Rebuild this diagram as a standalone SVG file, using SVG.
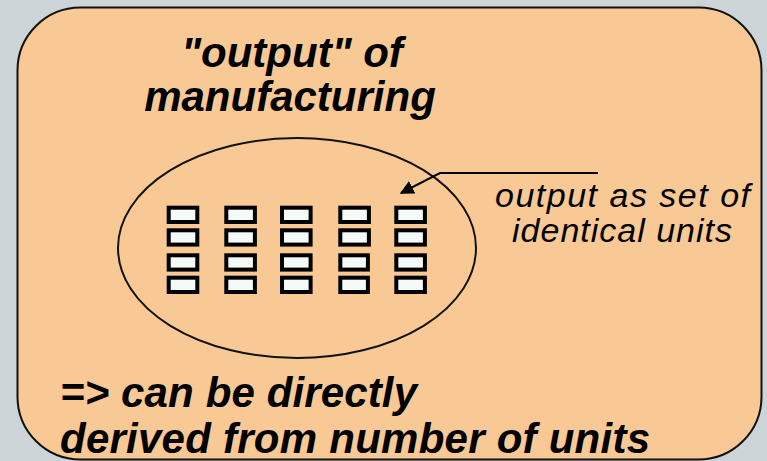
<svg xmlns="http://www.w3.org/2000/svg" width="767" height="461" viewBox="0 0 767 461">
<defs>
<style>
.t{font-family:"Liberation Sans",Arial,sans-serif;font-style:italic;fill:#000}
.b{font-weight:bold;font-size:42px}
.r{font-size:34px}
.u{fill:#F4FAF8;stroke:#000;stroke-width:4}
</style>
<marker id="ah" viewBox="0 0 10 10" refX="9" refY="5" markerWidth="14" markerHeight="14" markerUnits="userSpaceOnUse" orient="auto">
<path d="M0,0 L10,5 L0,10 z" fill="#000"/>
</marker>
</defs>
<rect width="767" height="461" fill="#CCD4D7"/>
<g id="frame">
<rect x="17.5" y="7.5" width="744" height="452" rx="63" ry="63" fill="#F8C995" stroke="#111" stroke-width="2"/>
</g>
<g id="title">
<text class="t b" x="292" y="67" text-anchor="middle">"output" of</text>
<text class="t b" x="290" y="111" text-anchor="middle">manufacturing</text>
</g>
<g id="set">
<ellipse cx="297" cy="248" rx="179" ry="110" fill="none" stroke="#111" stroke-width="2"/>
</g>
<g id="units">
<rect class="u" x="168.7" y="207.7" width="28.6" height="14.3"/>
<rect class="u" x="168.7" y="230.3" width="28.6" height="14.3"/>
<rect class="u" x="168.7" y="255.3" width="28.6" height="14.3"/>
<rect class="u" x="168.7" y="277.7" width="28.6" height="14.3"/>
<rect class="u" x="226.3" y="207.7" width="28.6" height="14.3"/>
<rect class="u" x="226.3" y="230.3" width="28.6" height="14.3"/>
<rect class="u" x="226.3" y="255.3" width="28.6" height="14.3"/>
<rect class="u" x="226.3" y="277.7" width="28.6" height="14.3"/>
<rect class="u" x="282" y="207.7" width="28.6" height="14.3"/>
<rect class="u" x="282" y="230.3" width="28.6" height="14.3"/>
<rect class="u" x="282" y="255.3" width="28.6" height="14.3"/>
<rect class="u" x="282" y="277.7" width="28.6" height="14.3"/>
<rect class="u" x="340.3" y="207.7" width="28.6" height="14.3"/>
<rect class="u" x="340.3" y="230.3" width="28.6" height="14.3"/>
<rect class="u" x="340.3" y="255.3" width="27.6" height="14.3"/>
<rect class="u" x="340.3" y="277.7" width="27.6" height="14.3"/>
<rect class="u" x="396.3" y="207.7" width="28.6" height="14.3"/>
<rect class="u" x="396.3" y="230.3" width="28.6" height="14.3"/>
<rect class="u" x="396.3" y="255.3" width="28.6" height="14.3"/>
<rect class="u" x="396.3" y="277.7" width="28.6" height="14.3"/>
</g>
<g id="connectors">
<polyline points="598,173 440,173 401,193" fill="none" stroke="#000" stroke-width="2" marker-end="url(#ah)"/>
</g>
<g id="label">
<text class="t r" x="495" y="207" textLength="255" lengthAdjust="spacing">output as set of</text>
<text class="t r" x="512" y="242" textLength="220" lengthAdjust="spacing">identical units</text>
</g>
<g id="conclusion">
<text class="t b" x="60" y="407" textLength="357" lengthAdjust="spacing">=&gt; can be directly</text>
<text class="t b" x="60" y="453" textLength="590" lengthAdjust="spacing">derived from number of units</text>
</g>
</svg>
